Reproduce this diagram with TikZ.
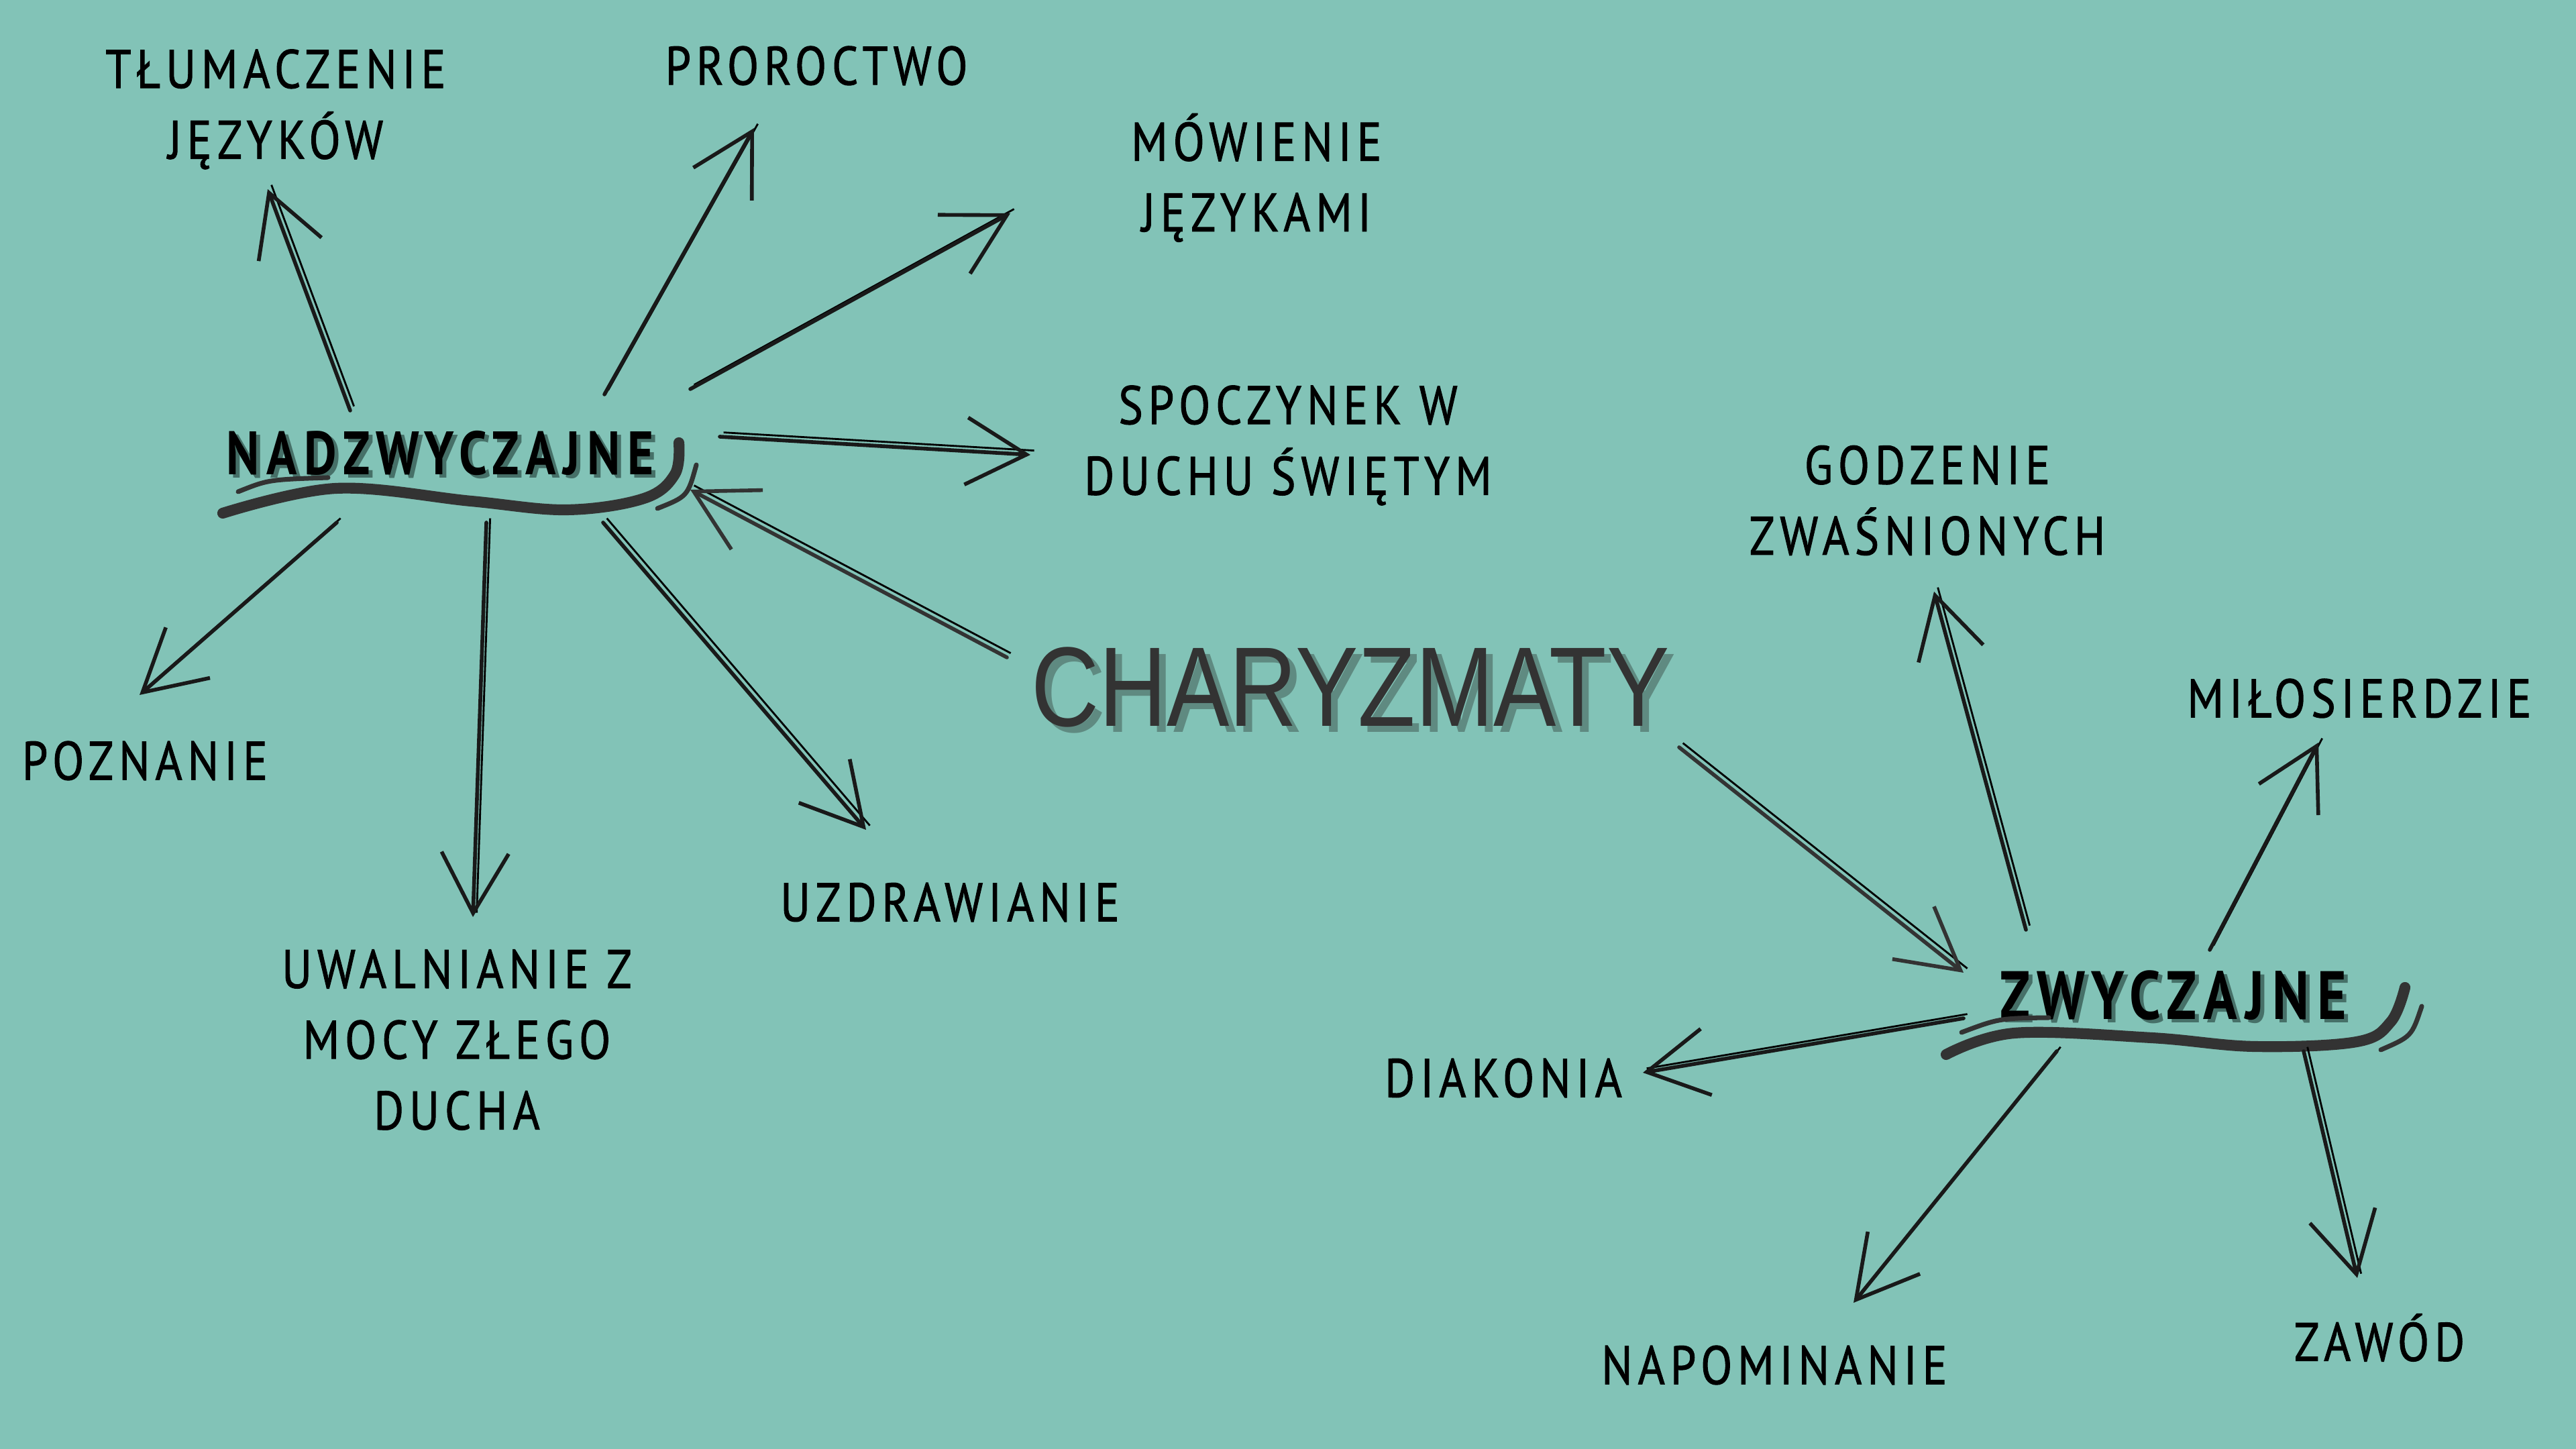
\documentclass[tikz,border=0pt]{standalone}
\usepackage{fontspec}
\usetikzlibrary{arrows.meta}
\newfontfamily\lblfont[FakeStretch=0.85,LetterSpace=10,FakeBold=1.2]{PT Sans}
\newfontfamily\hubfont[FakeStretch=0.82,LetterSpace=12]{PT Sans}
\newfontfamily\titlefont[FakeStretch=0.83]{Liberation Sans}
\definecolor{sea}{RGB}{130,195,183}
\definecolor{ink}{RGB}{25,25,25}
\definecolor{hubshade}{RGB}{70,112,104}
\definecolor{titleshade}{RGB}{95,138,129}
\definecolor{titleink}{RGB}{51,51,51}

\begin{document}
\begin{tikzpicture}[
		lbl/.style={align=center, inner sep=0pt, text=black, font=\lblfont\fontsize{23}{30}\selectfont},
		hub/.style={inner sep=0pt, font=\hubfont\bfseries\fontsize{#1}{30}\selectfont},
		hub/.default=26,
		title/.style={inner sep=0pt, font=\titlefont\fontsize{48}{50}\selectfont},
		sketch/.style={draw=ink, line width=1.6pt, line cap=round, -{Straight Barb[length=9mm,width=10mm]},
			preaction={draw, line width=0.8pt, -, transform canvas={shift={(1.6pt,1.8pt)}}}},
		swoosh/.style={draw=titleink, line cap=round}
	]
  \fill[sea] (0,0) rectangle (38.4,21.6);
  \useasboundingbox (0,0) rectangle (38.4,21.6);

  \node[title, text=titleshade] (chary_s) at (20.23,11.27) {CHARYZMATY};
  \node[title, text=titleink] (chary) at (20.13,11.36) {CHARYZMATY};

  \node[hub, text=hubshade] (nad_s) at (6.62,14.79) {NADZWYCZAJNE};
  \node[hub, text=black] (nad) at (6.56,14.84) {NADZWYCZAJNE};
  \node[hub=29, text=hubshade] (zw_s) at (32.46,6.71) {ZWYCZAJNE};
  \node[hub=29, text=black] (zw) at (32.40,6.76) {ZWYCZAJNE};

  \node[lbl] (tlum) at (4.11,19.97) {TŁUMACZENIE\\JĘZYKÓW};
  \node[lbl] (proro) at (12.17,20.62) {PROROCTWO};
  \node[lbl] (mow) at (18.73,18.95) {MÓWIENIE\\JĘZYKAMI};
  \node[lbl] (spocz) at (19.20,14.96) {SPOCZYNEK W\\DUCHU ŚWIĘTYM};
  \node[lbl] (pozn) at (2.16,10.26) {POZNANIE};
  \node[lbl] (uwal) at (6.81,6.10) {UWALNIANIE Z\\MOCY ZŁEGO\\DUCHA};
  \node[lbl] (uzdr) at (14.16,8.15) {UZDRAWIANIE};
  \node[lbl] (godz) at (28.73,14.14) {GODZENIE\\ZWAŚNIONYCH};
  \node[lbl] (milo) at (35.17,11.19) {MIŁOSIERDZIE};
  \node[lbl] (diak) at (22.41,5.53) {DIAKONIA};
  \node[lbl] (napom) at (26.45,1.25) {NAPOMINANIE};
  \node[lbl] (zawod) at (35.47,1.66) {ZAWÓD};

  \draw[swoosh, line width=4.6pt] plot[smooth, tension=0.6] coordinates {(3.32,13.95) (5.01,14.32) (7.02,14.13) (8.45,14.00) (9.60,14.17) (10.06,14.53) (10.12,15.0)};
  \draw[swoosh, line width=2pt] (3.55,14.27) .. controls (4.0,14.45) .. (4.89,14.48);
  \draw[swoosh, line width=2pt] (9.80,14.02) .. controls (10.25,14.2) .. (10.38,14.67);
  \draw[swoosh, line width=4.6pt] plot[smooth, tension=0.6] coordinates {(29.01,5.88) (30.03,6.20) (32.07,6.13) (33.60,6.00) (35.13,6.07) (35.64,6.37) (35.85,6.88)};
  \draw[swoosh, line width=2pt] (29.24,6.21) .. controls (29.8,6.42) .. (30.54,6.43);
  \draw[swoosh, line width=2pt] (35.49,5.95) .. controls (35.95,6.15) .. (36.10,6.60);

  \draw[sketch] ([shift={(-1.34,0.64)}]nad.center) -- ([shift={(-0.12,-1.19)}]tlum.center);
  \draw[sketch] ([shift={(2.45,0.88)}]nad.center) -- ([shift={(-0.93,-0.93)}]proro.center);
  \draw[sketch] ([shift={(3.73,0.96)}]nad.center) -- ([shift={(-3.67,-0.53)}]mow.center);
  \draw[sketch] ([shift={(4.17,0.25)}]nad.center) -- ([shift={(-3.84,-0.14)}]spocz.center);
  \draw[sketch] ([shift={(-1.54,-1.03)}]nad.center) -- ([shift={(-0.08,0.98)}]pozn.center);
  \draw[sketch] ([shift={(0.69,-1.03)}]nad.center) -- ([shift={(0.24,1.83)}]uwal.center);
  \draw[sketch] ([shift={(2.43,-1.03)}]nad.center) -- ([shift={(-1.25,1.08)}]uzdr.center);
  \draw[sketch, draw=titleink] ([shift={(-5.12,0.44)}]chary.center) -- ([shift={(3.73,-0.54)}]nad.center);
  \draw[sketch, draw=titleink] ([shift={(4.90,-0.90)}]chary.center) -- ([shift={(-3.13,0.34)}]zw.center);
  \draw[sketch] ([shift={(-2.20,0.98)}]zw.center) -- ([shift={(0.10,-1.36)}]godz.center);
  \draw[sketch] ([shift={(0.54,0.68)}]zw.center) -- ([shift={(-0.61,-0.66)}]milo.center);
  \draw[sketch] ([shift={(-3.13,-0.34)}]zw.center) -- ([shift={(2.08,0.08)}]diak.center);
  \draw[sketch] ([shift={(-1.74,-0.83)}]zw.center) -- ([shift={(1.18,0.93)}]napom.center);
  \draw[sketch] ([shift={(1.94,-0.83)}]zw.center) -- ([shift={(-0.33,0.89)}]zawod.center);
\end{tikzpicture}
\end{document}
